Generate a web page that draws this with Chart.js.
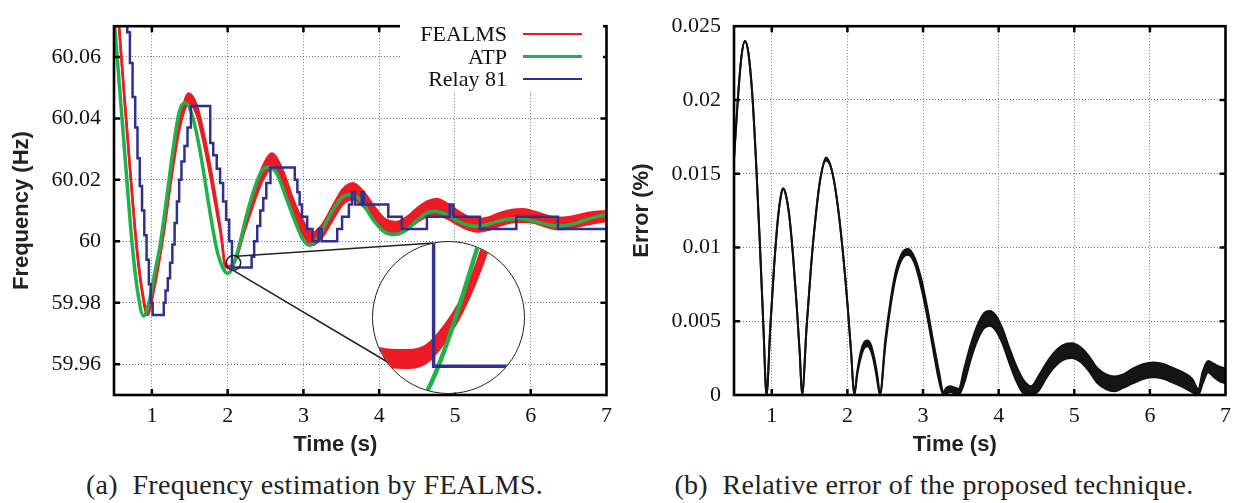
<!DOCTYPE html>
<html>
<head>
<meta charset="utf-8">
<script src="https://cdn.jsdelivr.net/npm/chart.js@4.4.1/dist/chart.umd.min.js"></script>
<style>
  html, body { margin: 0; padding: 0; background: #fff; }
  #wrap { position: relative; width: 1239px; height: 503px; overflow: hidden; background: #fff; }
  canvas { position: absolute; }
  .cap { position: absolute; top: 471px; height: 28px; line-height: 28px; font-family: "Liberation Serif", serif; font-size: 28px; color: #222; text-align: center; white-space: nowrap; letter-spacing: 0.3px; }
  #legend { position: absolute; left: 400px; top: 22px; width: 203px; height: 68px; background: #fff; }
  .lgrow { position: absolute; left: 0; width: 203px; height: 22px; }
  .lgtxt { position: absolute; right: 96px; top: 0; height: 22px; line-height: 22px; font-family: "Liberation Serif", serif; font-size: 22px; color: #111; white-space: nowrap; }
  .lgline { position: absolute; left: 123px; width: 59px; }
  #inset { position: absolute; left: 373px; top: 242px; width: 151px; height: 151px; border-radius: 50%; overflow: hidden; background: #fff; }
  #ring { position: absolute; left: 372px; top: 241px; width: 153px; height: 153px; border: 1.5px solid #222; border-radius: 50%; box-sizing: border-box; }
</style>
</head>
<body>
<div id="wrap">
  <canvas id="freqChart" width="620" height="460" style="left:0;top:0"></canvas>
  <canvas id="errChart" width="619" height="460" style="left:620px;top:0"></canvas>
  <div id="legend"></div>
  <div id="inset"><canvas id="insetChart" width="151" height="151" style="left:0;top:0"></canvas></div>
  <div id="ring"></div>
  <div class="cap" style="left:0;width:629px">(a)&nbsp; Frequency estimation by FEALMS.</div>
  <div class="cap" style="left:634px;width:600px">(b)&nbsp; Relative error of the proposed technique.</div>
</div>
<script>
// ---------------- DATA ----------------
const xTicks = [1, 2, 3, 4, 5, 6, 7];
const xTickLabels = ['1', '2', '3', '4', '5', '6', '7'];
const freqTicks = [59.96, 59.98, 60, 60.02, 60.04, 60.06];
const freqTickLabels = ['59.96', '59.98', '60', '60.02', '60.04', '60.06'];
const errTicks = [0, 0.005, 0.01, 0.015, 0.02, 0.025];
const errTickLabels = ['0', '0.005', '0.01', '0.015', '0.02', '0.025'];

const seriesNames = ['FEALMS', 'ATP', 'Relay 81'];
const seriesColors = ['#ed1c24', '#1fb14b', '#2e3192'];

// ATP (green)
const atpT = [0.5, 0.58, 0.66, 0.74, 0.81, 0.89, 0.96, 1.04, 1.11, 1.2, 1.28, 1.36, 1.44, 1.52, 1.6, 1.68, 1.77, 1.86, 1.94, 2.0, 2.046, 2.111, 2.18, 2.25, 2.38, 2.46, 2.54, 2.645, 2.776, 2.907, 3.0, 3.08, 3.2, 3.36, 3.5, 3.64, 3.78, 3.92, 4.06, 4.2, 4.35, 4.5, 4.62, 4.74, 4.88, 5.02, 5.15, 5.28, 5.42, 5.58, 5.72, 5.86, 6.0, 6.2, 6.38, 6.55, 6.75, 7.0];
const atpV = [60.073, 60.048, 60.023, 59.999, 59.984, 59.9757, 59.980, 59.990, 59.999, 60.015, 60.030, 60.042, 60.0452, 60.042, 60.034, 60.023, 60.009, 59.997, 59.9912, 59.9896, 59.9906, 59.9950, 60.0012, 60.0085, 60.019, 60.0232, 60.0242, 60.0222, 60.0139, 60.0054, 60.0003, 59.9987, 60.0015, 60.009, 60.014, 60.0152, 60.0125, 60.007, 60.0032, 60.0022, 60.0035, 60.0068, 60.0091, 60.0098, 60.0088, 60.0068, 60.0054, 60.0049, 60.0055, 60.0066, 60.0073, 60.0074, 60.0068, 60.0056, 60.0050, 60.0056, 60.0072, 60.0088];

// FEALMS (red) noisy band: upper and lower envelope
const fealmsT = [0.5, 0.566, 0.64, 0.72, 0.8, 0.87, 0.94, 1.025, 1.157, 1.245, 1.33, 1.40, 1.485, 1.594, 1.68, 1.77, 1.856, 1.92, 1.96, 1.99, 2.02, 2.055, 2.12, 2.207, 2.338, 2.47, 2.58, 2.73, 2.86, 2.995, 3.12, 3.25, 3.4, 3.52, 3.65, 3.8, 3.95, 4.08, 4.22, 4.36, 4.5, 4.63, 4.76, 4.9, 5.05, 5.18, 5.3, 5.45, 5.6, 5.75, 5.9, 6.05, 6.2, 6.35, 6.5, 6.65, 6.8, 7.0];
const fealmsHi = [60.0914, 60.0704, 60.0464, 60.0214, 59.9984, 59.9844, 59.9768, 59.9847, 60.0039, 60.0199, 60.0340, 60.0427, 60.0481, 60.0441, 60.0356, 60.0244, 60.0119, 60.0016, 59.9930, 59.99205, 59.9920, 59.9923, 59.99525, 60.0045, 60.0159, 60.0247, 60.0286, 60.0229, 60.0139, 60.0066, 60.0028, 60.0055, 60.0120, 60.0169, 60.0189, 60.0159, 60.0107, 60.0072, 60.0062, 60.0078, 60.0107, 60.0129, 60.0138, 60.0122, 60.0097, 60.0078, 60.0072, 60.0078, 60.0092, 60.0102, 60.0104, 60.0096, 60.0084, 60.0076, 60.0078, 60.0086, 60.0094, 60.0098];
const fealmsLo = [60.0906, 60.0696, 60.0456, 60.0206, 59.9976, 59.9836, 59.9760, 59.9839, 60.0027, 60.0183, 60.0320, 60.0403, 60.0451, 60.0411, 60.0326, 60.0214, 60.0095, 60.0004, 59.9925, 59.9915, 59.99145, 59.99175, 59.99465, 60.0021, 60.0119, 60.0203, 60.0238, 60.0181, 60.0091, 60.0022, 59.9988, 60.0015, 60.0076, 60.0121, 60.0137, 60.0111, 60.0063, 60.0032, 60.0022, 60.0038, 60.0063, 60.0081, 60.0086, 60.0074, 60.0053, 60.0038, 60.0032, 60.0038, 60.0052, 60.0062, 60.0064, 60.0060, 60.0048, 60.0040, 60.0042, 60.0050, 60.0058, 60.0066];

// Relay 81 (blue) staircase: value held from each time onward
const relayT = [0.5, 0.675, 0.71, 0.745, 0.78, 0.81, 0.84, 0.87, 0.90, 0.93, 0.96, 0.985, 1.01, 1.157, 1.18, 1.21, 1.24, 1.27, 1.30, 1.33, 1.36, 1.39, 1.43, 1.47, 1.515, 1.77, 1.81, 1.856, 1.90, 1.94, 1.98, 2.02, 2.057, 2.316, 2.35, 2.39, 2.43, 2.47, 2.51, 2.565, 2.886, 2.92, 2.95, 2.98, 3.05, 3.12, 3.2, 3.24, 3.446, 3.51, 3.6, 3.64, 3.68, 3.77, 3.8, 4.12, 4.3, 4.63, 4.93, 4.98, 5.33, 5.81, 6.36, 7.0];
const relayV = [60.10, 60.068, 60.058, 60.047, 60.037, 60.027, 60.018, 60.010, 60.002, 59.994, 59.986, 59.980, 59.976, 59.980, 59.984, 59.988, 59.993, 59.999, 60.006, 60.013, 60.020, 60.026, 60.031, 60.037, 60.044, 60.032, 60.028, 60.0236, 60.019, 60.013, 60.007, 60.0, 59.9915, 59.995, 60.0, 60.005, 60.010, 60.014, 60.019, 60.024, 60.020, 60.016, 60.012, 60.008, 60.004, 60.0, 60.004, 60.0, 60.004, 60.008, 60.012, 60.016, 60.012, 60.016, 60.012, 60.008, 60.004, 60.008, 60.012, 60.008, 60.004, 60.008, 60.004, 60.004];

// Relative error (%) band: upper and lower envelope
const errT = [0.5, 0.55, 0.6, 0.645, 0.69, 0.74, 0.79, 0.84, 0.89, 0.93, 0.98, 1.03, 1.08, 1.12, 1.148, 1.18, 1.23, 1.28, 1.33, 1.37, 1.40, 1.46, 1.52, 1.58, 1.64, 1.717, 1.79, 1.86, 1.93, 2.0, 2.05, 2.09, 2.13, 2.18, 2.225, 2.265, 2.31, 2.36, 2.40, 2.43, 2.50, 2.57, 2.64, 2.72, 2.80, 2.89, 2.98, 3.06, 3.14, 3.21, 3.27, 3.31, 3.36, 3.42, 3.47, 3.55, 3.63, 3.71, 3.80, 3.88, 3.96, 4.05, 4.14, 4.23, 4.33, 4.43, 4.53, 4.63, 4.73, 4.84, 4.96, 5.08, 5.19, 5.30, 5.42, 5.53, 5.65, 5.78, 5.92, 6.05, 6.18, 6.32, 6.45, 6.56, 6.64, 6.70, 6.77, 6.85, 6.93, 7.0];
const errHi = [0.0160, 0.0200, 0.0230, 0.0240, 0.0232, 0.0205, 0.0160, 0.0105, 0.0045, 0, 0.0046, 0.0087, 0.0119, 0.0135, 0.0140, 0.0137, 0.0122, 0.0095, 0.0060, 0.0028, 0, 0.0046, 0.0088, 0.0121, 0.0146, 0.0161, 0.0153, 0.0133, 0.0102, 0.0062, 0.0028, 0, 0.0016, 0.0030, 0.0036, 0.0037, 0.0034, 0.0024, 0.0012, 0, 0.0037, 0.0064, 0.0084, 0.0096, 0.0099, 0.0093, 0.0078, 0.0058, 0.0035, 0.0016, 0.0002, 0.0005, 0.0006, 0.0005, 0.0004, 0.0019, 0.0034, 0.0046, 0.0055, 0.0057, 0.0054, 0.0045, 0.0032, 0.0020, 0.0010, 0.0006, 0.0013, 0.00215, 0.00285, 0.00335, 0.0035, 0.00325, 0.00265, 0.00185, 0.0014, 0.00125, 0.0014, 0.0018, 0.0021, 0.0022, 0.0021, 0.0018, 0.0015, 0.0011, 0.0004, 0.0016, 0.0023, 0.0021, 0.0019, 0.0018];
const errLo = [0.0160, 0.0200, 0.0230, 0.0240, 0.0232, 0.0205, 0.0160, 0.0105, 0.0045, 0, 0.0046, 0.0087, 0.0119, 0.0135, 0.0140, 0.0137, 0.0122, 0.0095, 0.0060, 0.0028, 0, 0.0046, 0.0088, 0.0121, 0.0146, 0.0159, 0.0153, 0.0133, 0.0102, 0.0062, 0.0028, 0, 0.0014, 0.0026, 0.0032, 0.0033, 0.0030, 0.0020, 0.0008, 0, 0.0033, 0.0060, 0.0080, 0.0092, 0.0095, 0.0089, 0.0072, 0.0052, 0.0029, 0.0010, 0, 0.0001, 0.0002, 0.0001, 0, 0.0009, 0.0024, 0.0036, 0.0045, 0.0047, 0.0044, 0.0035, 0.0022, 0.0010, 0.0001, 0, 0.0003, 0.00115, 0.00185, 0.00235, 0.0025, 0.00225, 0.00165, 0.00085, 0.0004, 0.00025, 0.0005, 0.0008, 0.0011, 0.0012, 0.0011, 0.0008, 0.0005, 0.0002, 0, 0.0008, 0.00155, 0.0012, 0.0009, 0.0008];

// ---------------- STYLE / LAYOUT ----------------
const TICK_FONT = { family: '"Liberation Serif", serif', size: 22 };
const TITLE_FONT = { family: '"Liberation Sans", Arial, sans-serif', size: 22, weight: 'bold' };
const GRID_COLOR = '#7a7a7a';

function pts(xs, ys) { return xs.map((x, i) => ({ x: x, y: ys[i] })); }

function freqDatasets(w) {
  return [
    { label: seriesNames[2], data: pts(relayT, relayV), borderColor: seriesColors[2], borderWidth: w.blue, stepped: 'before', pointRadius: 0, fill: false },
    { label: seriesNames[1], data: pts(atpT, atpV), borderColor: seriesColors[1], borderWidth: w.green, cubicInterpolationMode: 'monotone', pointRadius: 0, fill: false },
    { label: seriesNames[0] + ' (upper)', data: pts(fealmsT, fealmsHi), borderColor: seriesColors[0], borderWidth: w.red, cubicInterpolationMode: 'monotone', pointRadius: 0, fill: false },
    { label: seriesNames[0] + ' (lower)', data: pts(fealmsT, fealmsLo), borderColor: seriesColors[0], backgroundColor: seriesColors[0], borderWidth: w.red, cubicInterpolationMode: 'monotone', pointRadius: 0, fill: '-1' }
  ];
}

const framePlugin = {
  id: 'frame',
  afterDatasetsDraw(chart) {
    const ctx = chart.ctx, a = chart.chartArea, x = chart.scales.x, y = chart.scales.y;
    const L = 6;
    ctx.save();
    ctx.strokeStyle = '#000';
    ctx.lineWidth = 2.5;
    ctx.beginPath();
    x.ticks.forEach(t => {
      const p = x.getPixelForValue(t.value);
      if (p > a.left + 3 && p < a.right - 3) {
        ctx.moveTo(p, a.bottom); ctx.lineTo(p, a.bottom - L);
        ctx.moveTo(p, a.top); ctx.lineTo(p, a.top + L);
      }
    });
    y.ticks.forEach(t => {
      const p = y.getPixelForValue(t.value);
      if (p > a.top + 3 && p < a.bottom - 3) {
        ctx.moveTo(a.left, p); ctx.lineTo(a.left + L, p);
        ctx.moveTo(a.right, p); ctx.lineTo(a.right - L, p);
      }
    });
    ctx.stroke();
    ctx.lineWidth = 2.6;
    ctx.strokeRect(a.left, a.top, a.right - a.left, a.bottom - a.top);
    ctx.restore();
  }
};

const xTitlePlugin = {
  id: 'xTitleShift',
  afterDraw(chart, args, opts) {
    const ctx = chart.ctx, a = chart.chartArea;
    ctx.save();
    ctx.font = 'bold 22px "Liberation Sans", Arial, sans-serif';
    ctx.fillStyle = '#222';
    ctx.textAlign = 'center';
    ctx.textBaseline = 'middle';
    ctx.fillText(opts.text, (a.left + a.right) / 2 + opts.shift, opts.y);
    ctx.restore();
  }
};

// zoom marker: small circle on the data and connector lines to the inset
const ZOOM_CENTER = { x: 2.076, y: 59.993 };
const zoomMarkPlugin = {
  id: 'zoomMark',
  afterDraw(chart) {
    const ctx = chart.ctx, x = chart.scales.x, y = chart.scales.y;
    const cx = x.getPixelForValue(ZOOM_CENTER.x), cy = y.getPixelForValue(ZOOM_CENTER.y);
    const r = 7.3;
    ctx.save();
    ctx.strokeStyle = '#222';
    ctx.lineWidth = 1.5;
    ctx.beginPath();
    ctx.arc(cx, cy, r, 0, Math.PI * 2);
    ctx.stroke();
    const a1 = -66 * Math.PI / 180, a2 = 95 * Math.PI / 180;
    ctx.beginPath();
    ctx.moveTo(cx + r * Math.cos(a1), cy + r * Math.sin(a1));
    ctx.lineTo(433.5, 243);
    ctx.moveTo(cx + r * Math.cos(a2), cy + r * Math.sin(a2));
    ctx.lineTo(390, 363.5);
    ctx.stroke();
    ctx.restore();
  }
};

function baseScales(yMin, yMax, yTicksArr, yLabelsArr, yTitle) {
  return {
    x: {
      type: 'linear', min: 0.5, max: 7,
      afterBuildTicks: s => { s.ticks = xTicks.map(v => ({ value: v })); },
      afterFit: s => { s.height = 65; },
      ticks: { font: TICK_FONT, color: '#111', padding: 8, maxRotation: 0, autoSkip: false, callback: (v, i) => xTickLabels[i] },
      grid: { color: GRID_COLOR, lineWidth: 1, drawTicks: false },
      border: { display: false, dash: [1, 2] }
    },
    y: {
      type: 'linear', min: yMin, max: yMax,
      afterBuildTicks: s => { s.ticks = yTicksArr.map(v => ({ value: v })); },
      afterFit: s => { s.width = 114; },
      ticks: { font: TICK_FONT, color: '#111', padding: 13, autoSkip: false, callback: (v, i) => yLabelsArr[i] },
      grid: { color: GRID_COLOR, lineWidth: 1, drawTicks: false },
      border: { display: false, dash: [1, 2] },
      title: { display: true, text: yTitle, font: TITLE_FONT, color: '#222', padding: { top: 9, bottom: 0 } }
    }
  };
}

// ---------------- CHART (a) ----------------
new Chart(document.getElementById('freqChart'), {
  type: 'line',
  data: { datasets: freqDatasets({ blue: 2.5, green: 3.5, red: 2.5 }) },
  options: {
    responsive: false, animation: false, events: [],
    layout: { padding: { top: 16, right: 11, left: 0, bottom: 0 } },
    plugins: { legend: { display: false }, tooltip: { enabled: false }, xTitleShift: { text: 'Time (s)', shift: -25, y: 445 } },
    scales: baseScales(59.95, 60.07, freqTicks, freqTickLabels, 'Frequency (Hz)')
  },
  plugins: [framePlugin, xTitlePlugin, zoomMarkPlugin]
});

// ---------------- CHART (b) ----------------
new Chart(document.getElementById('errChart'), {
  type: 'line',
  data: {
    datasets: [
      { label: 'Error (upper)', data: pts(errT, errHi), borderColor: '#111', borderWidth: 2, cubicInterpolationMode: 'monotone', pointRadius: 0, fill: false },
      { label: 'Error (lower)', data: pts(errT, errLo), borderColor: '#111', backgroundColor: '#151515', borderWidth: 2, cubicInterpolationMode: 'monotone', pointRadius: 0, fill: '-1' }
    ]
  },
  options: {
    responsive: false, animation: false, events: [],
    layout: { padding: { top: 16, right: 10, left: 0, bottom: 0 } },
    plugins: { legend: { display: false }, tooltip: { enabled: false }, xTitleShift: { text: 'Time (s)', shift: -25, y: 445 } },
    scales: baseScales(0, 0.025, errTicks, errTickLabels, 'Error (%)')
  },
  plugins: [framePlugin, xTitlePlugin]
});

// ---------------- INSET (zoom of chart (a)) ----------------
new Chart(document.getElementById('insetChart'), {
  type: 'line',
  data: { datasets: freqDatasets({ blue: 3.5, green: 4.5, red: 2 }) },
  options: {
    responsive: false, animation: false, events: [],
    layout: { padding: 0 },
    plugins: { legend: { display: false }, tooltip: { enabled: false } },
    scales: {
      x: { type: 'linear', display: false, min: 1.9797, max: 2.1723 },
      y: { type: 'linear', display: false, min: 59.99068, max: 59.99532 }
    }
  }
});

// ---------------- LEGEND ----------------
const legendWidths = [1.5, 3, 2.5];
const legend = document.getElementById('legend');
seriesNames.forEach((name, i) => {
  const row = document.createElement('div');
  row.className = 'lgrow';
  row.style.top = (i * 22.5 + 1) + 'px';
  const txt = document.createElement('span');
  txt.className = 'lgtxt';
  txt.textContent = name;
  const ln = document.createElement('div');
  ln.className = 'lgline';
  ln.style.height = legendWidths[i] + 'px';
  ln.style.top = (11 - legendWidths[i] / 2) + 'px';
  ln.style.background = seriesColors[i];
  row.appendChild(txt);
  row.appendChild(ln);
  legend.appendChild(row);
});
</script>
</body>
</html>
